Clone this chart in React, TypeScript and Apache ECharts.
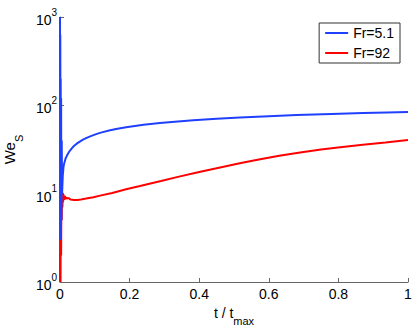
import React, { useEffect, useRef } from "react";
import * as echarts from "echarts";

const seriesNames = ["Fr=5.1", "Fr=92"];
const blueT = [0, 0.0008, 0.0016, 0.0024, 0.0032, 0.004, 0.005, 0.006, 0.008, 0.01, 0.012, 0.016, 0.02, 0.025, 0.03, 0.035, 0.04, 0.048, 0.057, 0.066, 0.075, 0.085, 0.096, 0.108, 0.12, 0.144, 0.165, 0.19, 0.215, 0.24, 0.287, 0.33, 0.383, 0.45, 0.517, 0.6, 0.68, 0.78, 0.871, 0.94, 1.0];
const blueV = [1000, 3, 200, 3.5, 120, 5, 40, 10, 16, 20, 22, 25, 27, 29.3, 31.2, 33, 34.6, 36.8, 38.8, 40.8, 42.5, 44.3, 46, 47.8, 49.4, 52.1, 54.2, 56.4, 58.3, 60.1, 63.0, 65.3, 67.8, 70.5, 72.8, 75.3, 77.6, 80.0, 81.8, 83.0, 83.9];
const redT = [0, 0.0008, 0.0016, 0.0024, 0.0032, 0.004, 0.005, 0.006, 0.007, 0.008, 0.009, 0.01, 0.012, 0.014, 0.016, 0.018, 0.02, 0.025, 0.03, 0.04, 0.05, 0.06, 0.075, 0.096, 0.115, 0.15, 0.19, 0.23, 0.29, 0.345, 0.4, 0.46, 0.52, 0.575, 0.63, 0.69, 0.75, 0.805, 0.87, 0.935, 1.0];
const redV = [1, 630, 1, 60, 2, 10, 5, 10.5, 7, 10, 8, 9.8, 8.5, 9.4, 8.7, 9.1, 8.8, 8.9, 8.6, 8.5, 8.5, 8.6, 8.8, 9.1, 9.5, 10.2, 11.2, 12.2, 13.9, 15.7, 17.6, 19.8, 22.2, 24.5, 26.8, 29.2, 31.6, 33.5, 35.8, 38.0, 40.4];
const xTicks = [0, 0.2, 0.4, 0.6, 0.8, 1];

const FONT = "Liberation Sans";

export default function App() {
  const ref = useRef<HTMLDivElement>(null);
  useEffect(() => {
    const chart = echarts.init(ref.current!, null, { renderer: "svg" });
    chart.setOption({
      animation: false,
      backgroundColor: "#fff",
      textStyle: { fontFamily: FONT },
      grid: { left: 60, right: 7, top: 17, bottom: 48, containLabel: false, outerBoundsMode: "none" },
      legend: {
        data: seriesNames,
        orient: "vertical",
        right: 15,
        top: 23,
        icon: "rect",
        itemWidth: 23,
        itemHeight: 2,
        itemGap: 6,
        padding: [3, 6, 3, 6],
        borderColor: "#333",
        borderWidth: 1,
        backgroundColor: "#fff",
        textStyle: { fontSize: 14, color: "#000", fontFamily: FONT },
      },
      xAxis: {
        type: "value",
        min: xTicks[0],
        max: xTicks[xTicks.length - 1],
        interval: 0.2,
        name: "{a|t / t}{s|max}",
        nameLocation: "middle",
        nameGap: 18,
        nameTextStyle: {
          rich: {
            a: { fontSize: 14, color: "#000", fontFamily: FONT, verticalAlign: "top", lineHeight: 18 },
            s: { fontSize: 11, color: "#000", fontFamily: FONT, verticalAlign: "bottom", lineHeight: 21 },
          },
        },
        axisLine: { lineStyle: { color: "#666", width: 1 } },
        axisTick: { inside: true, length: 4, lineStyle: { color: "#666" } },
        axisLabel: {
          fontSize: 14,
          color: "#000",
          margin: 5,
          formatter: (v: number) => String(Math.round(v * 10) / 10),
        },
        splitLine: { show: false },
      },
      yAxis: {
        type: "log",
        logBase: 10,
        min: 1,
        max: 1000,
        name: "{a|We}{s|S}",
        nameLocation: "middle",
        nameGap: 29,
        nameTextStyle: {
          rich: {
            a: { fontSize: 15, color: "#000", fontFamily: FONT, verticalAlign: "top", lineHeight: 18 },
            s: { fontSize: 11, color: "#000", fontFamily: FONT, verticalAlign: "bottom", lineHeight: 23 },
          },
        },
        axisLine: { show: true, lineStyle: { color: "#666", width: 1 } },
        axisTick: { show: true, inside: true, length: 4, lineStyle: { color: "#666" } },
        minorTick: { show: false },
        axisLabel: {
          margin: 3,
          formatter: (v: number) => `{b|10}{s|${Math.round(Math.log10(v))}}`,
          rich: {
            b: { fontSize: 14, color: "#000", fontFamily: FONT, verticalAlign: "bottom", lineHeight: 20 },
            s: { fontSize: 10, color: "#000", fontFamily: FONT, verticalAlign: "top", lineHeight: 20 },
          },
        },
        splitLine: { show: false },
      },
      series: [
        {
          name: seriesNames[1],
          type: "line",
          data: redT.map((t, i) => [t, redV[i]]),
          showSymbol: false,
          symbol: "none",
          lineStyle: { color: "#ff0000", width: 2 },
          itemStyle: { color: "#ff0000" },
          z: 2,
        },
        {
          name: seriesNames[0],
          type: "line",
          data: blueT.map((t, i) => [t, blueV[i]]),
          showSymbol: false,
          symbol: "none",
          lineStyle: { color: "#2040ff", width: 2 },
          itemStyle: { color: "#2040ff" },
          z: 3,
        },
      ],
    });
    return () => chart.dispose();
  }, []);
  return (
    <div
      ref={ref}
      style={{ position: "fixed", left: 0, top: 0, width: 415, height: 330, background: "#fff" }}
    />
  );
}
